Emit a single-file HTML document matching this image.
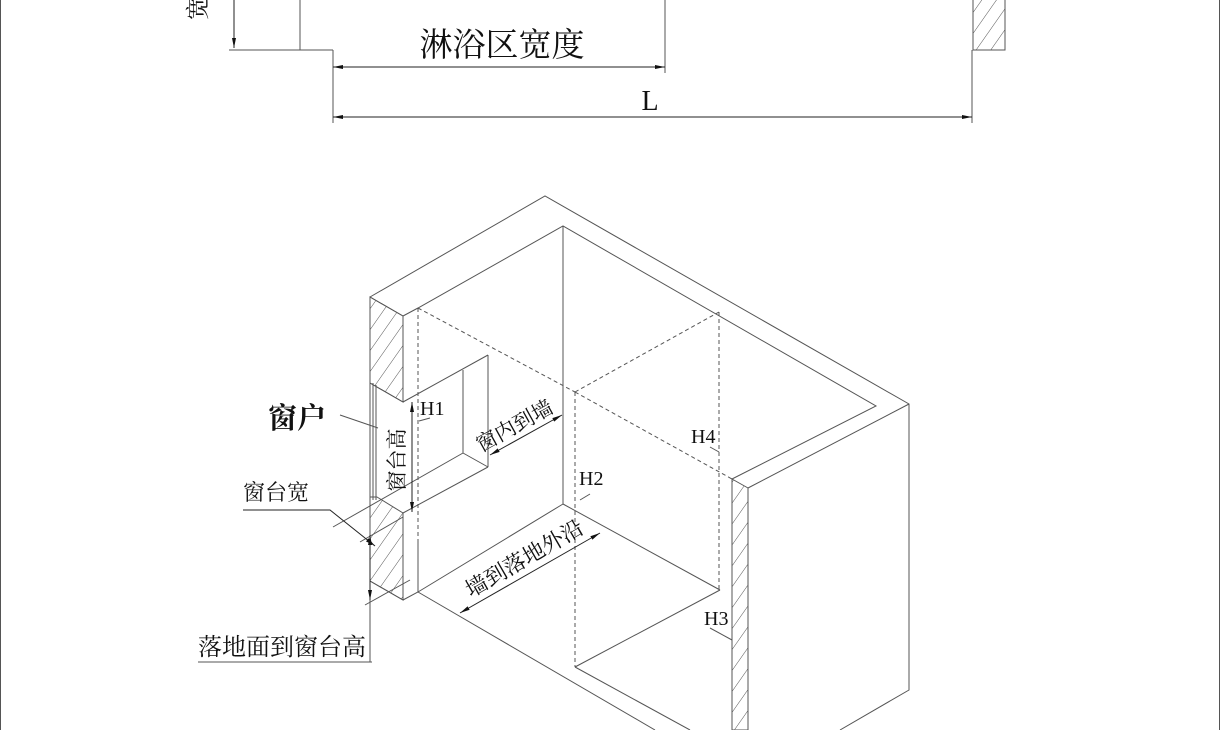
<!DOCTYPE html>
<html><head><meta charset="utf-8"><style>
html,body{margin:0;padding:0;background:#fff;}
svg{display:block;}
text{font-family:"Liberation Serif","Noto Serif CJK SC","Noto Sans CJK SC",serif;fill:#111;}
</style></head><body>
<svg width="1220" height="730" viewBox="0 0 1220 730" xmlns="http://www.w3.org/2000/svg">
<defs>
<pattern id="h" patternUnits="userSpaceOnUse" width="12" height="12" patternTransform="rotate(35)">
<line x1="0" y1="0" x2="0" y2="12" stroke="#555" stroke-width="1"/>
</pattern>
<marker id="a" viewBox="0 0 10 6" refX="10" refY="3" markerWidth="10" markerHeight="6" orient="auto-start-reverse" markerUnits="userSpaceOnUse">
<path d="M0,1 L10,3 L0,5 Z" fill="#111"/></marker>
</defs>
<g stroke="#555" stroke-width="1" fill="none">
<line x1="0.5" y1="0" x2="0.5" y2="730"/>
<line x1="1219.5" y1="0" x2="1219.5" y2="730"/>
<line x1="234" y1="0" x2="234" y2="48" marker-end="url(#a)" stroke="#222"/>
<line x1="229" y1="50" x2="333" y2="50"/>
<line x1="300" y1="0" x2="300" y2="50"/>
<line x1="333" y1="50" x2="333" y2="123"/>
<line x1="665" y1="0" x2="665" y2="73"/>
<line x1="333" y1="67" x2="665" y2="67" stroke="#222" marker-start="url(#a)" marker-end="url(#a)"/>
<line x1="972" y1="50" x2="972" y2="123"/>
<line x1="333" y1="117" x2="972" y2="117" stroke="#222" marker-start="url(#a)" marker-end="url(#a)"/>
<rect x="973" y="-2" width="32" height="52" fill="url(#h)"/>
<line x1="1005" y1="0" x2="1005" y2="50"/>
<line x1="973" y1="50" x2="1005" y2="50"/>
<polyline points="370,297 545,196 909,404 909,690 840,730"/>
<line x1="909" y1="404" x2="748" y2="488"/>
<polyline points="403,316 418,308 563,226 876,406 732,479"/>
<line x1="370" y1="297" x2="403" y2="316"/>
<line x1="563" y1="226" x2="563" y2="504"/>
<polygon points="370,297 403,316 403,402 370,383" fill="url(#h)"/>
<polygon points="377,497 403,513 403,600 370,581 370,497" fill="url(#h)"/>
<line x1="370" y1="297" x2="370" y2="581"/>
<line x1="403" y1="316" x2="403" y2="402"/>
<line x1="403" y1="513" x2="403" y2="600"/>
<line x1="370" y1="581" x2="403" y2="600"/>
<polyline points="403,600 418,592 563,504"/>
<line x1="418" y1="592" x2="655" y2="730"/>
<line x1="418" y1="540" x2="418" y2="592"/>
<line x1="373" y1="383" x2="373" y2="500"/>
<line x1="376" y1="385" x2="376" y2="500"/>
<line x1="403" y1="402" x2="488" y2="355"/>
<line x1="488" y1="355" x2="488" y2="467"/>
<line x1="463" y1="370" x2="463" y2="453"/>
<line x1="463" y1="453" x2="488" y2="467"/>
<line x1="488" y1="467" x2="403" y2="513"/>
<line x1="370" y1="383" x2="403" y2="402"/>
<line x1="333" y1="527" x2="463" y2="453"/>
<line x1="360" y1="542" x2="403" y2="517"/>
<line x1="365" y1="605" x2="410" y2="580"/>
<polygon points="732,479 748,488 748,730 732,730" fill="url(#h)"/>
<line x1="732" y1="479" x2="732" y2="730"/>
<line x1="748" y1="488" x2="748" y2="730"/>
<line x1="563" y1="504" x2="720" y2="590"/>
<line x1="720" y1="590" x2="575" y2="667"/>
<line x1="575" y1="667" x2="690" y2="730"/>
<g stroke-dasharray="4,3">
<line x1="418" y1="308" x2="418" y2="540"/>
<line x1="418" y1="308" x2="575" y2="392"/>
<line x1="575" y1="392" x2="575" y2="667"/>
<line x1="575" y1="392" x2="719" y2="312"/>
<line x1="575" y1="392" x2="732" y2="479"/>
<line x1="719" y1="312" x2="719" y2="590"/>
</g>
<line x1="412" y1="402" x2="412" y2="512" stroke="#222" marker-start="url(#a)" marker-end="url(#a)"/>
<line x1="490" y1="455" x2="562" y2="415" stroke="#222" marker-start="url(#a)" marker-end="url(#a)"/>
<line x1="460" y1="613" x2="600" y2="533" stroke="#222" marker-start="url(#a)" marker-end="url(#a)"/>
<line x1="370" y1="535" x2="370" y2="600" stroke="#222" marker-start="url(#a)" marker-end="url(#a)"/>
<line x1="370" y1="600" x2="370" y2="662"/>
<line x1="198" y1="662" x2="372" y2="662"/>
<polyline points="243,510 330,510 375,546" stroke="#222" marker-end="url(#a)"/>
<line x1="340" y1="415" x2="378" y2="428"/>
<line x1="419" y1="421" x2="430" y2="418"/>
<line x1="580" y1="500" x2="590" y2="494"/>
<line x1="710" y1="447" x2="719" y2="452"/>
<line x1="710" y1="628" x2="732" y2="640"/>
</g>
<text x="502" y="56" font-size="33" text-anchor="middle">淋浴区宽度</text>
<text x="650" y="110" font-size="28" text-anchor="middle">L</text>
<text x="206" y="8" font-size="24" transform="rotate(-90 206 8)" text-anchor="middle">宽</text>
<text x="268" y="428" font-size="29" font-weight="bold" font-family="'Liberation Sans','Noto Sans CJK SC',sans-serif">窗户</text>
<text x="420" y="415" font-size="20">H1</text>
<text x="579" y="485" font-size="20">H2</text>
<text x="691" y="443" font-size="20">H4</text>
<text x="704" y="625" font-size="20">H3</text>
<text x="243" y="500" font-size="22">窗台宽</text>
<text x="198" y="655" font-size="24">落地面到窗台高</text>
<text x="404" y="460" font-size="21" text-anchor="middle" transform="rotate(-90 404 460)">窗台高</text>
<text x="518" y="432" font-size="21" text-anchor="middle" transform="rotate(-29 518 432)">窗内到墙</text>
<text x="528" y="565" font-size="22" text-anchor="middle" transform="rotate(-30 528 565)">墙到落地外沿</text>
</svg>
</body></html>
